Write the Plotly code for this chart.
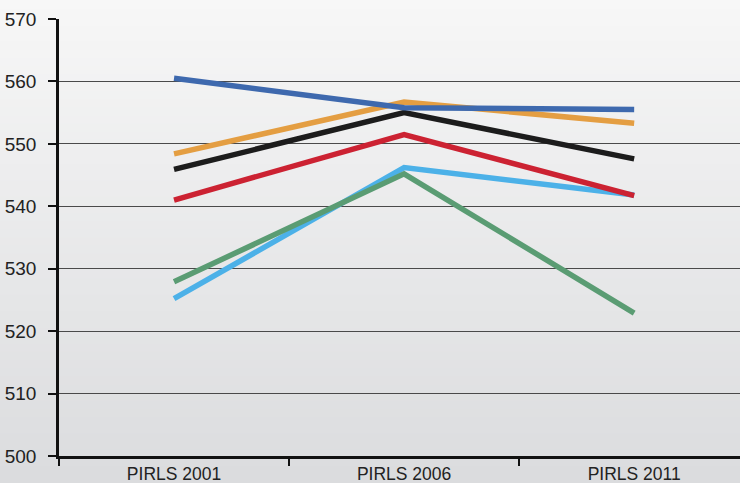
import plotly.graph_objects as go

categories = ["PIRLS 2001", "PIRLS 2006", "PIRLS 2011"]
blue = [560.5, 555.8, 555.5]
orange = [548.4, 556.7, 553.3]
black = [545.9, 555.0, 547.6]
red = [541.0, 551.5, 541.7]
light_blue = [525.2, 546.2, 541.8]
green = [527.9, 545.2, 522.9]
y_ticks = [500, 510, 520, 530, 540, 550, 560, 570]

series = [
    (light_blue, "#4cb1e8"),
    (green, "#5a9c73"),
    (red, "#cc2232"),
    (black, "#1c1c1c"),
    (orange, "#e49e42"),
    (blue, "#3e69ae"),
]

fig = go.Figure()
for vals, col in series:
    fig.add_trace(go.Scatter(x=categories, y=vals, mode="lines",
                             line=dict(color=col, width=5.5), showlegend=False,
                             hoverinfo="skip"))

# vertical background gradient (styling only)
n = 60
top = (247, 247, 247)
bot = (219, 220, 222)
shapes = []
for i in range(n):
    t = i / (n - 1)
    c = tuple(round(top[k] + (bot[k] - top[k]) * t) for k in range(3))
    y1 = 1.06 - i * (1.12 / n)
    y0 = y1 - 1.12 / n - 0.002
    shapes.append(dict(type="rect", xref="paper", yref="paper",
                       x0=-0.1, x1=1.05, y0=y0, y1=y1, layer="below",
                       line=dict(width=0), fillcolor="rgb(%d,%d,%d)" % c))

fig.update_layout(
    width=740, height=483,
    margin=dict(l=59, r=0, t=19, b=27),
    paper_bgcolor="rgba(0,0,0,0)",
    plot_bgcolor="rgba(0,0,0,0)",
    shapes=shapes,
    font=dict(family="Liberation Sans, Arial, sans-serif", color="#222222"),
    xaxis=dict(type="category", range=[-0.5, 2.46], showgrid=False,
               showline=True, linecolor="#111111", linewidth=2.5,
               ticks="outside", tickson="boundaries", ticklen=7,
               tickwidth=2, tickcolor="#111111", automargin=False,
               ticklabelstandoff=0,
               tickfont=dict(size=17.5), fixedrange=True, zeroline=False),
    yaxis=dict(range=[500, 570], tickvals=y_ticks, showgrid=True,
               gridcolor="#4a4a4a", gridwidth=1, showline=True,
               linecolor="#111111", linewidth=2.5, ticks="outside",
               ticklen=8, tickwidth=1.5, tickcolor="#111111",
               tickfont=dict(size=19), zeroline=False, automargin=False,
               ticklabelstandoff=8, fixedrange=True),
)
fig.write_html("out.html", config={"displayModeBar": False},
               post_script="document.body.style.margin='0';document.body.style.overflow='hidden';")
